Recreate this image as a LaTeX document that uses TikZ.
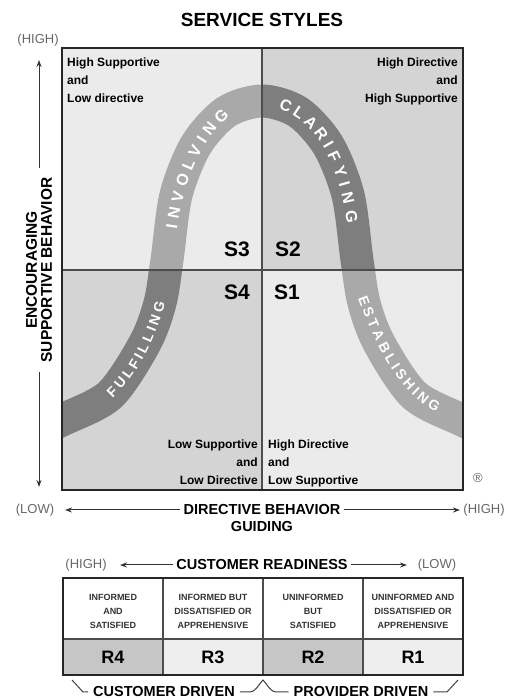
\documentclass[tikz,border=0pt]{standalone}
\usepackage{fontspec}
\setmainfont{Liberation Sans}
\usetikzlibrary{arrows.meta}

\definecolor{quadlight}{HTML}{EBEBEB}
\definecolor{quaddark}{HTML}{D4D4D4}
\definecolor{bandlight}{HTML}{A9A9A9}
\definecolor{banddark}{HTML}{7E7E7E}
\definecolor{cellgray}{HTML}{C6C6C6}
\definecolor{celllight}{HTML}{EEEEEE}

% centre line of the bell-shaped band
\newcommand\bellpath{plot[smooth] coordinates {(40,270) (62,280) (110,305) (145,357)
    (160,397) (167,440) (176,505) (196,555) (226,588) (262,599) (298,588) (328,555)
    (348,505) (357,440) (364,397) (379,357) (414,305) (462,280) (484,270)}}

\begin{document}
\begin{tikzpicture}[x=1pt, y=1pt, >={Stealth[length=7pt, width=5pt]},
    band/.style={line width=33pt},
    bandletter/.style={font=\bfseries\fontsize{#1}{#1}\selectfont, text=white, sloped, inner sep=0pt},
    frame/.style={line width=2.5pt, draw=black!85},
    divider/.style={line width=1.2pt, draw=black!70},
    quad/.style={font=\bfseries\fontsize{12}{18}\selectfont, inner sep=0pt},
    snum/.style={font=\bfseries\fontsize{21}{21}\selectfont},
    axis/.style={font=\bfseries\fontsize{14.5}{15}\selectfont, inner sep=3pt},
    endlbl/.style={font=\fontsize{13}{13}\selectfont, text=black!60},
    axisline/.style={line width=1pt, draw=black!80},
    cell/.style={font=\bfseries\fontsize{9}{14}\selectfont, align=center, text=black!80},
    rlab/.style={font=\bfseries\fontsize{18}{18}\selectfont},
    brace/.style={line width=1pt, draw=black!75}]

\useasboundingbox (0,0) rectangle (508,700);

% Title
\node[font=\bfseries\fontsize{19}{19}\selectfont] (title) at (262,680) {SERVICE STYLES};

% 1. Quadrant shading
\fill[quadlight] (62,430) rectangle (262,652);
\fill[quaddark]  (262,430) rectangle (463,652);
\fill[quaddark]  (62,210) rectangle (262,430);
\fill[quadlight] (262,210) rectangle (463,430);

% 2. The band, one shade per quadrant
\begin{scope}
  \clip (62,430) rectangle (262,652);
  \draw[band, bandlight] \bellpath;
\end{scope}
\begin{scope}
  \clip (262,430) rectangle (463,652);
  \draw[band, banddark] \bellpath;
\end{scope}
\begin{scope}
  \clip (62,210) rectangle (262,430);
  \draw[band, banddark] \bellpath;
\end{scope}
\begin{scope}
  \clip (262,210) rectangle (463,430);
  \draw[band, bandlight] \bellpath;
\end{scope}

% 3. Words along the band, one letter at a time (positions follow the letter widths)
\foreach \l/\p [count=\i] in {F/.052, U/.163, L/.274, F/.378, I/.459, L/.541, L/.645, I/.726, N/.815, G/.937}
  \path (108,304) .. controls (135,329) and (151,364) .. (161,400)
    node[bandletter=14, pos=\p] (ful\i) {\l};
\foreach \l/\p [count=\i] in {I/.037, N/.135, V/.256, O/.380, L/.500, V/.615, I/.710, N/.808, G/.935}
  \path (171,468) .. controls (177.6,514.5) and (191.8,560) .. (228,590)
    node[bandletter=16, pos=\p] (inv\i) {\l};
\foreach \l/\p [count=\i] in {C/.056, L/.161, A/.267, R/.379, I/.467, F/.550, Y/.653, I/.738, N/.827, G/.941}
  \path (278,597) .. controls (326,583) and (346,528) .. (353,474)
    node[bandletter=16, pos=\p] (cla\i) {\l};
\foreach \l/\p [count=\i] in {E/.044, S/.132, T/.218, A/.306, B/.400, L/.488, I/.553, S/.621, H/.712, I/.783, N/.853, G/.950}
  \path (362,405) .. controls (378,362) and (399,312) .. (440,291)
    node[bandletter=14, pos=\p] (est\i) {\l};

% 4. Dividers and frame
\draw[divider] (262,210) -- (262,652);
\draw[divider] (62,430) -- (463,430);
\draw[frame] (62,210) rectangle (463,652);

% 5. Quadrant texts
\node[quad, anchor=north west, align=left] (hsld) at (67,642) {High Supportive\\and\\Low directive};
\node[quad, anchor=north east, align=right] (hdhs) at (458,642) {High Directive\\and\\High Supportive};
\node[quad, anchor=north east, align=right] (lsld) at (258,260) {Low Supportive\\and\\Low Directive};
\node[quad, anchor=north west, align=left] (hdls) at (268,260) {High Directive\\and\\Low Supportive};

% 6. Style numbers
\node[snum] (s3) at (237,451) {S3};
\node[snum] (s2) at (288,451) {S2};
\node[snum] (s4) at (237,408) {S4};
\node[snum] (s1) at (287,408) {S1};

% 7. Axes
\node[endlbl] (highY) at (38,660) {(HIGH)};
\coordinate (suppTop) at (39,640);
\coordinate (suppBot) at (39,213);
\node[axis, font=\bfseries\fontsize{15.5}{15}\selectfont, rotate=90, align=center,
    inner xsep=9pt, inner ysep=1pt] (supp) at (39,430) {ENCOURAGING\\SUPPORTIVE BEHAVIOR};
\draw[axisline, ->] (supp) -- (suppTop);
\draw[axisline, ->] (supp) -- (suppBot);

\node[axis] (directive) at (262,190) {DIRECTIVE BEHAVIOR};
\node[axis] (guiding) at (262,173) {GUIDING};
\node[endlbl] (lowX) at (35,190) {(LOW)};
\node[endlbl] (highX) at (484,190) {(HIGH)};
\coordinate (xLeft) at (65,190);
\coordinate (xRight) at (460,190);
\draw[axisline, ->] (directive) -- (xLeft);
\draw[axisline, ->] (directive) -- (xRight);

\node[endlbl] (reg) at (478,222) {\textregistered};

% 8. Readiness scale
\node[endlbl] (highR) at (86,135) {(HIGH)};
\node[axis] (readiness) at (262,135) {CUSTOMER READINESS};
\node[endlbl] (lowR) at (437,135) {(LOW)};
\coordinate (rLeft) at (120,135);
\coordinate (rRight) at (407,135);
\draw[axisline, ->] (readiness) -- (rLeft);
\draw[axisline, ->] (readiness) -- (rRight);

% 9. Readiness table
\foreach \x/\c in {63/cellgray, 163/celllight, 263/cellgray, 363/celllight}
  \fill[\c] (\x,25) rectangle ++(100,36);
\draw[divider] (63,61) -- (463,61);
\foreach \x in {163,263,363}
  \draw[divider] (\x,25) -- (\x,122);
\draw[frame] (63,25) rectangle (463,122);

\node[cell] (need4) at (113,89) {INFORMED\\AND\\SATISFIED};
\node[cell] (need3) at (213,89) {INFORMED BUT\\DISSATISFIED OR\\APPREHENSIVE};
\node[cell] (need2) at (313,89) {UNINFORMED\\BUT\\SATISFIED};
\node[cell] (need1) at (413,89) {UNINFORMED AND\\DISSATISFIED OR\\APPREHENSIVE};

\node[rlab] (r4) at (113,43) {R4};
\node[rlab] (r3) at (213,43) {R3};
\node[rlab] (r2) at (313,43) {R2};
\node[rlab] (r1) at (413,43) {R1};

% 10. Braces underneath
\node[axis, inner xsep=5pt] (custdriven) at (164,8) {CUSTOMER DRIVEN};
\node[axis, inner xsep=5pt] (provdriven) at (361,8) {PROVIDER DRIVEN};
\draw[brace] (custdriven.west) -- (83,8) -- (72,20);
\draw[brace] (custdriven.east) -- (249,8) to[out=0, in=-135] (263,20)
    to[out=-45, in=180] (277,8) -- (provdriven.west);
\draw[brace] (provdriven.east) -- (447,8) -- (458,20);

\end{tikzpicture}
\end{document}
